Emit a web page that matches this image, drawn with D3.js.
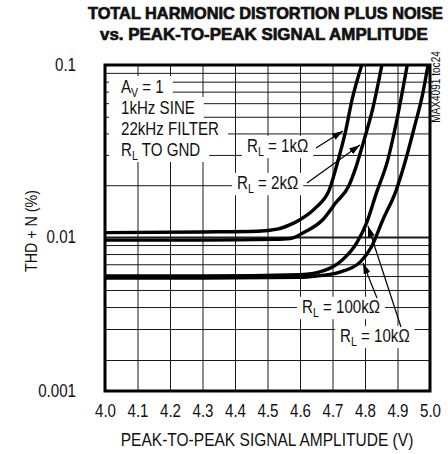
<!DOCTYPE html>
<html><head><meta charset="utf-8">
<script src="https://cdn.jsdelivr.net/npm/d3@7"></script>
<style>
body{margin:0;background:#fff;}
svg{display:block;}
text{font-family:"Liberation Sans Narrow","Liberation Sans",Arial,sans-serif;fill:#111;}
</style></head><body>
<svg id="chart" width="448" height="454"></svg>
<script>
// ---------- data ----------
const amp1k   = [4.00, 4.30, 4.47, 4.53, 4.57, 4.60, 4.65, 4.69, 4.72, 4.74, 4.76, 4.79];
const thd1k   = [0.0106, 0.0107, 0.0108, 0.0111, 0.0118, 0.0126, 0.0149, 0.0188, 0.0292, 0.0410, 0.0626, 0.1];
const amp2k   = [4.00, 4.30, 4.52, 4.57, 4.61, 4.67, 4.71, 4.75, 4.77, 4.795, 4.825, 4.852];
const thd2k   = [0.0096, 0.0096, 0.0097, 0.0098, 0.0106, 0.0126, 0.0158, 0.0198, 0.0248, 0.0355, 0.057, 0.1];
const amp10k  = [4.00, 4.30, 4.60, 4.68, 4.73, 4.775, 4.805, 4.835, 4.87, 4.90, 4.93];
const thd10k  = [0.0060, 0.0060, 0.0061, 0.0065, 0.0074, 0.0093, 0.0121, 0.018, 0.028, 0.050, 0.1];
const amp100k = [4.00, 4.30, 4.60, 4.65, 4.72, 4.785, 4.82, 4.855, 4.895, 4.925, 4.952, 4.978, 4.994];
const thd100k = [0.00585, 0.00585, 0.0059, 0.0060, 0.0063, 0.0072, 0.0088, 0.0126, 0.0185, 0.028, 0.0436, 0.0687, 0.1];

const xTickValues = [4.0, 4.1, 4.2, 4.3, 4.4, 4.5, 4.6, 4.7, 4.8, 4.9, 5.0];
const xTickLabels = ["4.0","4.1","4.2","4.3","4.4","4.5","4.6","4.7","4.8","4.9","5.0"];
const yTickValues = [0.001, 0.01, 0.1];
const yTickLabels = ["0.001", "0.01", "0.1"];

const titleLines = ["TOTAL HARMONIC DISTORTION PLUS NOISE", "vs. PEAK-TO-PEAK SIGNAL AMPLITUDE"];
const legendLines = [["A", {sub:"V"}, " = 1"], ["1kHz SINE"], ["22kHz FILTER"], ["R", {sub:"L"}, " TO GND"]];

// ---------- layout ----------
const W = 448, H = 454;
const K = 0.84; // horizontal condensing of text (reference uses a condensed face)
const plot = {left:105, right:430, top:65, bottom:391};
const svg = d3.select("#chart");

const x = d3.scaleLinear().domain([4.0, 5.0]).range([plot.left, plot.right]);
// axis as drawn in the reference: decades 0.1..0.01 and 0.01..0.002 equal, last part compressed
const y = d3.scaleLog().domain([0.001, 0.002, 0.01, 0.1]).range([plot.bottom, 360, 237, plot.top]);

const series = [
  {name:"1k", xs:amp1k, ys:thd1k},
  {name:"2k", xs:amp2k, ys:thd2k},
  {name:"10k", xs:amp10k, ys:thd10k},
  {name:"100k", xs:amp100k, ys:thd100k}
];

// annotation anchors in data units
const annotations = [
  {label:["R",{sub:"L"}," = 1kΩ"],   at:[4.4369, 0.0312], from:[4.6492, 0.03292], to:[4.7323, 0.04134]},
  {label:["R",{sub:"L"}," = 2kΩ"],   at:[4.4062, 0.0190], from:[4.6215, 0.0206],  to:[4.7846, 0.03426]},
  {label:["R",{sub:"L"}," = 100kΩ"], at:[4.6062, 0.0037], from:[4.8369, 0.0045],  to:[4.7938, 0.00712]},
  {label:["R",{sub:"L"}," = 10kΩ"],  at:[4.7231, 0.00253], from:[4.9108, 0.00308], to:[4.8092, 0.01159]}
];

// ---------- grid ----------
const yGrid = [];
[0.001, 0.01].forEach(dec => { for (let k = 2; k <= 9; k++) yGrid.push(+(k*dec).toPrecision(3)); });
yGrid.push(0.01);

const gGridX = svg.append("g").attr("transform", `translate(0,${plot.bottom})`)
  .call(d3.axisBottom(x).tickValues(xTickValues.slice(1, -1)).tickSize(-(plot.bottom - plot.top)).tickFormat(""));
gGridX.select(".domain").remove();
gGridX.selectAll("line").attr("stroke", "#1a1a1a").attr("stroke-width", 1);

const gGridY = svg.append("g").attr("transform", `translate(${plot.left},0)`)
  .call(d3.axisLeft(y).tickValues(yGrid).tickSize(-(plot.right - plot.left)).tickFormat(""));
gGridY.select(".domain").remove();
gGridY.selectAll("line").attr("stroke", "#1a1a1a").attr("stroke-width", d => d === 0.01 ? 2 : 1);

// ---------- rich text helper (condensed) ----------
function rich(g, parts, px, py, size, anchor) {
  const holder = g.append("g").attr("transform", `translate(${px},${py}) scale(${K},1)`);
  const t = holder.append("text").attr("x", 0).attr("y", 0).style("font-size", size + "px");
  if (anchor) t.attr("text-anchor", anchor);
  let lowered = false;
  parts.forEach(p => {
    if (typeof p === "string") {
      const ts = t.append("tspan").text(p);
      if (lowered) { ts.attr("dy", -4); lowered = false; }
    } else {
      t.append("tspan").text(p.sub).attr("dy", 4).style("font-size", (size * 0.7) + "px");
      lowered = true;
    }
  });
  return t;
}
function box(node) { return node.getBoundingClientRect(); }

const gLegendBoxes = svg.append("g");
const gAnnBoxes = svg.append("g");
const gCurves = svg.append("g");
const gFrame = svg.append("g");
const gLeaders = svg.append("g");
const gTexts = svg.append("g");

// ---------- legend block (white boxes over grid) ----------
legendLines.forEach((parts, i) => {
  const by = plot.top + 28 + i * 21;
  const t = rich(gTexts, parts, plot.left + 16, by, 18);
  const bb = box(t.node());
  gLegendBoxes.append("rect").attr("x", plot.left + 4).attr("y", by - 17)
    .attr("width", bb.right + 9 - (plot.left + 4)).attr("height", i === 3 ? 23 : 21).attr("fill", "#fff");
});

// ---------- annotation labels ----------
annotations.forEach(a => {
  const t = rich(gTexts, a.label, x(a.at[0]), y(a.at[1]), 18);
  const bb = box(t.node());
  gAnnBoxes.append("rect").attr("x", bb.left - 5).attr("y", bb.top)
    .attr("width", bb.width + 10).attr("height", bb.height).attr("fill", "#fff");
});

// ---------- curves ----------
const defs = svg.append("defs");
defs.append("clipPath").attr("id", "clip")
  .append("rect").attr("x", plot.left).attr("y", plot.top)
  .attr("width", plot.right - plot.left).attr("height", plot.bottom - plot.top);

const line = d3.line().x(d => x(d[0])).y(d => y(d[1])).curve(d3.curveMonotoneX);
gCurves.attr("clip-path", "url(#clip)").selectAll("path").data(series).join("path")
  .attr("d", s => line(s.xs.map((v, i) => [v, s.ys[i]])))
  .attr("fill", "none").attr("stroke", "#000").attr("stroke-width", 3.4).attr("stroke-linejoin", "round");

// ---------- frame ----------
gFrame.append("rect").attr("x", plot.left).attr("y", plot.top)
  .attr("width", plot.right - plot.left).attr("height", plot.bottom - plot.top)
  .attr("fill", "none").attr("stroke", "#000").attr("stroke-width", 3);

// ---------- leaders with arrowheads ----------
defs.append("marker").attr("id", "arrow")
  .attr("markerUnits", "userSpaceOnUse").attr("markerWidth", 12).attr("markerHeight", 8)
  .attr("refX", 11).attr("refY", 3.5).attr("orient", "auto")
  .append("path").attr("d", "M0,0 L11,3.5 L0,7 Z").attr("fill", "#000");

gLeaders.selectAll("line").data(annotations).join("line")
  .attr("x1", a => x(a.from[0])).attr("y1", a => y(a.from[1]))
  .attr("x2", a => x(a.to[0])).attr("y2", a => y(a.to[1]))
  .attr("stroke", "#000").attr("stroke-width", 1.2).attr("marker-end", "url(#arrow)");

// ---------- axes labels ----------
const yPad = 29;
const gY = svg.append("g").attr("transform", `translate(${plot.left},0)`)
  .call(d3.axisLeft(y).tickValues(yTickValues).tickFormat((d, i) => yTickLabels[i]).tickSize(0).tickPadding(yPad));
gY.select(".domain").remove();
gY.selectAll("text").style("font-size", "18px").attr("dy", "0.28em")
  .attr("x", -yPad / K).attr("transform", `scale(${K},1)`);

const gX = svg.append("g").attr("transform", `translate(0,${plot.bottom})`)
  .call(d3.axisBottom(x).tickValues(xTickValues).tickFormat((d, i) => xTickLabels[i]).tickSize(0).tickPadding(13));
gX.select(".domain").remove();
gX.selectAll("text").style("font-size", "18px").attr("transform", `scale(${K},1)`);
[gX, gY].forEach(g => g.attr("font-family", null).attr("font-size", null));

rich(svg, ["PEAK-TO-PEAK SIGNAL AMPLITUDE (V)"], 267, 446, 18.5, "middle");

svg.append("g").attr("transform", "translate(37,231) rotate(-90) scale(" + K + ",1)")
  .append("text").attr("text-anchor", "middle").style("font-size", "17px").text("THD + N (%)");

svg.append("g").attr("transform", "translate(440,87) rotate(-90) scale(" + K + ",1)")
  .append("text").attr("text-anchor", "middle").style("font-size", "12px").text("MAX4091 toc24");

// ---------- title (condensed to the reference width by a horizontal scale) ----------
const titlePos = [{x:88, y:19, len:355}, {x:100, y:40, len:328}];
titleLines.forEach((s, i) => {
  const g = svg.append("g");
  const t = g.append("text").attr("x", 0).attr("y", 0)
    .style("font-size", "17px").style("font-weight", "bold")
    .style("stroke", "#111").style("stroke-width", "0.7px").text(s);
  const natural = t.node().getComputedTextLength();
  g.attr("transform", `translate(${titlePos[i].x},${titlePos[i].y}) scale(${titlePos[i].len / natural},1)`);
});
</script>
</body></html>
